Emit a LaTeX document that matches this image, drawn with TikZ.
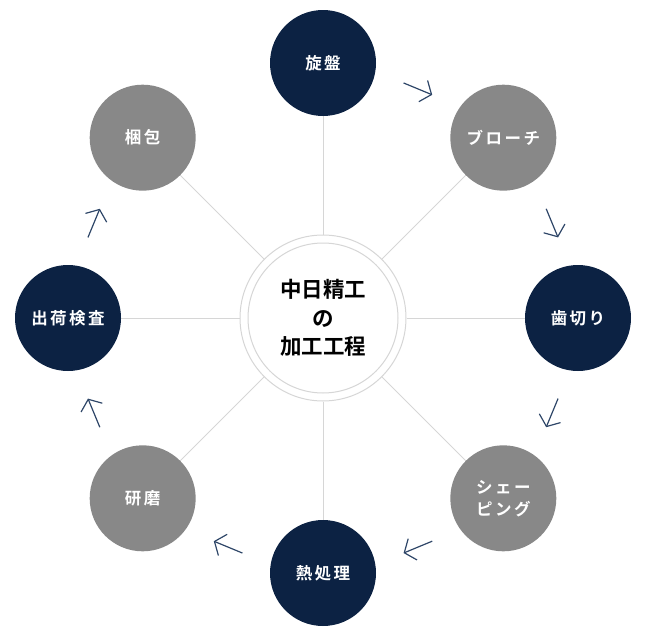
\documentclass[tikz,border=0pt]{standalone}
\usepackage{fontspec}
\setmainfont{Noto Sans CJK JP}
\newfontfamily\jpnode[LetterSpace=15]{Noto Sans CJK JP Bold}
\newfontfamily\jpcenter{Noto Sans CJK JP Bold}
\usetikzlibrary{arrows.meta}
\pgfdeclarelayer{background}
\pgfsetlayers{background,main}
\definecolor{navy}{HTML}{0C2243}
\definecolor{stepgray}{HTML}{888888}
\definecolor{spoke}{HTML}{D6D6D6}
\definecolor{arrowc}{HTML}{2E4668}
\tikzset{
  stepbase/.style={circle, minimum size=106pt, inner sep=0pt, text=white, font=\jpnode\fontsize{16.5}{22}\selectfont, align=center},
  navystep/.style={stepbase, fill=navy},
  graystep/.style={stepbase, fill=stepgray},
  spokeline/.style={draw=spoke, line width=1pt},
  flowarrow/.style={draw=arrowc, line width=1.2pt, -{Straight Barb[length=9pt,width=23pt,line width=1.2pt]}},
}
\begin{document}
\begin{tikzpicture}[x=1pt,y=1pt]
\useasboundingbox (0,0) rectangle (645,-637);
\coordinate (c) at (323,-318);
% nodes
\node[navystep] (n1) at ([shift={(90:255pt)}]c) {旋盤};
\node[graystep] (n2) at ([shift={(45:255pt)}]c) {ブローチ};
\node[navystep] (n3) at ([shift={(0:255pt)}]c) {歯切り};
\node[graystep] (n4) at ([shift={(-45:255pt)}]c) {シェー\\ピング};
\node[navystep] (n5) at ([shift={(-90:255pt)}]c) {熱処理};
\node[graystep] (n6) at ([shift={(-135:255pt)}]c) {研磨};
\node[navystep] (n7) at ([shift={(180:255pt)}]c) {出荷検査};
\node[graystep] (n8) at ([shift={(135:255pt)}]c) {梱包};
% center
\node[circle, minimum size=166pt, inner sep=0pt, fill=white, draw=spoke, line width=1pt] (outer) at (c) {};
\node[circle, minimum size=150pt, inner sep=0pt, draw=spoke, line width=1pt, align=center,
      font=\jpcenter\fontsize{21.5}{28.5}\selectfont, text=black] (center) at (c) {中日精工\\の\\加工工程};
% spokes
\begin{pgfonlayer}{background}
\foreach \n in {n1,n2,n3,n4,n5,n6,n7,n8}{
  \draw[spokeline] (outer) -- (\n);
}
\end{pgfonlayer}
% arrows
\foreach \a [count=\i] in {67.5,22.5,-22.5,-67.5,-112.5,-157.5,157.5}{
  \coordinate (m\i) at ([shift={(\a:248pt)}]c);
  \coordinate (t\i) at ([shift={(\a+90:15.5pt)}]m\i);
  \coordinate (h\i) at ([shift={(\a-90:15.5pt)}]m\i);
  \draw[flowarrow] (t\i) -- (h\i);
}
\end{tikzpicture}
\end{document}
